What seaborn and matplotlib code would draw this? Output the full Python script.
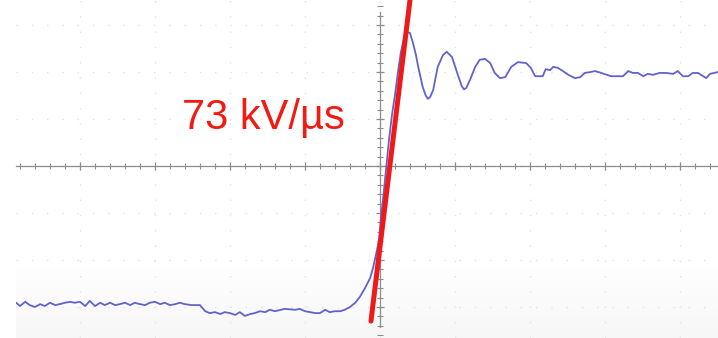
import numpy as np
import pandas as pd
import seaborn as sns
from matplotlib import pyplot as plt
from matplotlib.ticker import MultipleLocator

# scope trace (units = grid divisions)
t_div = [-4.85, -4.80, -4.73, -4.67, -4.60, -4.53, -4.47, -4.40, -4.33, -4.27,
         -4.20, -4.13, -4.07, -4.00, -3.93, -3.87, -3.80, -3.73, -3.67, -3.60,
         -3.53, -3.47, -3.40, -3.33, -3.27, -3.20, -3.13, -3.07, -3.00, -2.93,
         -2.87, -2.80, -2.73, -2.67, -2.60, -2.51, -2.40, -2.33, -2.27, -2.20,
         -2.13, -2.07, -2.00, -1.93, -1.87, -1.80, -1.73, -1.67, -1.60, -1.53,
         -1.47, -1.40, -1.27, -1.13, -1.07, -1.00, -0.93, -0.87, -0.80, -0.73,
         -0.67, -0.60, -0.53, -0.47, -0.40, -0.33, -0.27, -0.20, -0.13, -0.09,
         -0.04, -0.01, 0.01, 0.04, 0.08, 0.12, 0.16, 0.20, 0.24, 0.28,
         0.32, 0.36, 0.40, 0.44, 0.48, 0.51, 0.57, 0.61, 0.64, 0.67, 0.71, 0.77,
         0.84, 0.89, 0.96, 1.03, 1.09, 1.12, 1.15, 1.20, 1.27, 1.33, 1.40, 1.47,
         1.53, 1.60, 1.67, 1.75, 1.84, 1.95, 2.01, 2.07, 2.17, 2.21,
         2.27, 2.31, 2.37, 2.44, 2.51, 2.60, 2.67, 2.73, 2.81, 2.87,
         2.95, 3.08, 3.24, 3.31, 3.37, 3.44, 3.51, 3.57, 3.64, 3.73,
         3.81, 3.91, 3.97, 4.04, 4.11, 4.17, 4.24, 4.28, 4.35, 4.40, 4.51]
v_div = [-2.91, -2.98, -2.89, -2.96, -3.00, -2.94, -2.98, -2.91, -2.96, -2.94,
         -2.91, -2.89, -2.91, -2.89, -2.98, -2.87, -2.98, -2.91, -2.96, -2.91,
         -2.96, -2.94, -2.91, -2.96, -2.91, -2.94, -2.96, -2.91, -2.89, -2.94,
         -2.91, -2.96, -2.94, -2.91, -2.94, -2.96, -2.96, -3.09, -3.13, -3.11,
         -3.15, -3.11, -3.13, -3.17, -3.11, -3.19, -3.15, -3.13, -3.09, -3.11,
         -3.06, -3.09, -3.04, -3.06, -3.04, -3.09, -3.11, -3.13, -3.13, -3.06,
         -3.11, -3.09, -3.09, -3.06, -3.00, -2.91, -2.79, -2.60, -2.38, -2.15,
         -1.79, -1.53, -1.15, -0.72, -0.09, 0.55, 1.09, 1.51, 2.00, 2.43,
         2.72, 2.85, 2.83, 2.62, 2.36, 2.11, 1.68, 1.50, 1.43, 1.47, 1.62, 2.11,
         2.36, 2.43, 2.32, 1.98, 1.70, 1.63, 1.66, 1.83, 2.11, 2.26, 2.28, 2.19,
         1.98, 1.87, 1.89, 2.11, 2.21, 2.19, 2.09, 1.91, 1.91, 2.06,
         2.04, 2.11, 2.09, 2.02, 1.94, 1.87, 1.89, 1.98, 2.00, 2.02,
         1.98, 1.91, 1.91, 2.02, 1.98, 1.98, 1.91, 1.96, 1.94, 1.98,
         1.98, 1.96, 2.02, 1.91, 1.91, 1.98, 1.98, 1.94, 1.87, 1.96, 2.00]

# slope line drawn over the rising edge
slope_t = [-0.12, 0.40]
slope_v = [-3.30, 3.53]
slope_label = "73 kV/µs"

trace = pd.DataFrame({"t": t_div, "v": v_div})
fit = pd.DataFrame({"t": slope_t, "v": slope_v})

sns.set_style("white")
plt.rcParams["font.family"] = ["Liberation Sans", "DejaVu Sans"]

fig = plt.figure(figsize=(7.18, 3.38), dpi=100)
ax = fig.add_axes([16 / 718, 0, 702 / 718, 1])

x0, x1 = -4.853, 4.507
y0, y1 = -3.66, 3.532

# faint grey shading towards the bottom of the screen (row 0 = bottom)
shade = np.linspace(1, 0, 100)[:, None] ** 0.8
ax.imshow(shade, extent=(x0, x1, y0, -2.1), aspect="auto", cmap="Greys",
          vmin=0, vmax=15, zorder=0, origin="lower", interpolation="bilinear")

sns.lineplot(data=trace, x="t", y="v", sort=False, estimator=None,
             color="#6262cc", linewidth=1.3, ax=ax, zorder=3)
sns.lineplot(data=fit, x="t", y="v", sort=False, estimator=None,
             color="#ee1a1a", linewidth=3.6, ax=ax, zorder=4)

ax.text(-1.56, 1.02, slope_label, color="#f01c14", fontsize=30,
        ha="center", va="center")

ax.set_xlim(x0, x1)
ax.set_ylim(y0, y1)

# centre cross-hair axes with scope style ticks
for side in ["top", "right"]:
    ax.spines[side].set_visible(False)
ax.spines["left"].set_position(("data", 0))
ax.spines["bottom"].set_position(("data", 0))
ax.spines["left"].set_bounds(-3.43, 3.28)
for side in ["left", "bottom"]:
    ax.spines[side].set_color("#8c8c8c")
    ax.spines[side].set_linewidth(0.9)

ax.xaxis.set_major_locator(MultipleLocator(1))
ax.xaxis.set_minor_locator(MultipleLocator(0.2))
ax.yaxis.set_major_locator(MultipleLocator(1))
ax.yaxis.set_minor_locator(MultipleLocator(0.2))
ax.tick_params(which="both", direction="inout", colors="#8c8c8c",
               labelbottom=False, labelleft=False, bottom=True, left=True)
ax.tick_params(which="major", length=6, width=0.9)
ax.tick_params(which="minor", length=4, width=0.8)

ax.grid(True, which="major", color="#e2e2e2", linestyle=(0, (1, 10)),
        linewidth=1.0)
ax.set_xlabel("")
ax.set_ylabel("")
ax.set_axisbelow(True)

fig.savefig("out.png", dpi=100)
